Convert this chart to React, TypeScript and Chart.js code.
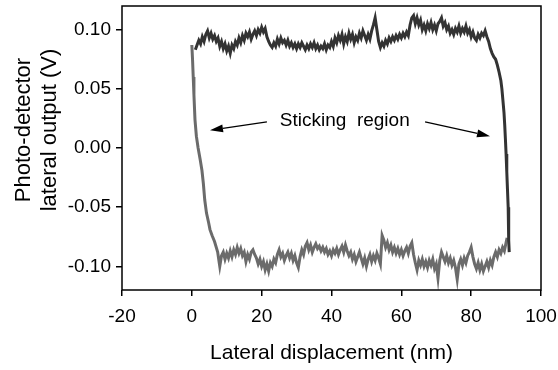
import React, { useEffect, useRef } from "react";
import { Chart, registerables } from "chart.js";
Chart.register(...registerables);

// Upper (dark) trace: forward scan, then slip at right edge
const topX = [
  1, 1.5, 2, 2.5, 3, 3.5, 4, 4.5, 5, 5.5, 6, 6.5, 7, 7.5, 8, 8.5, 9, 9.5, 10, 10.5,
  11, 11.5, 12, 12.5, 13, 13.5, 14, 14.5, 15, 15.5, 16, 16.5, 17, 17.5, 18, 18.5, 19, 19.5, 20, 20.5,
  21, 21.5, 22, 22.5, 23, 23.5, 24, 24.5, 25, 25.5, 26, 26.5, 27, 27.5, 28, 28.5, 29, 29.5, 30, 30.5,
  31, 31.5, 32, 32.5, 33, 33.5, 34, 34.5, 35, 35.5, 36, 36.5, 37, 37.5, 38, 38.5, 39, 39.5, 40, 40.5,
  41, 41.5, 42, 42.5, 43, 43.5, 44, 44.5, 45, 45.5, 46, 46.5, 47, 47.5, 48, 48.5, 49, 49.5, 50, 50.5,
  51, 51.5, 52, 52.5, 53, 53.5, 54, 54.5, 55, 55.5, 56, 56.5, 57, 57.5, 58, 58.5, 59, 59.5, 60, 60.5,
  61, 61.5, 62, 62.5, 63, 63.5, 64, 64.5, 65, 65.5, 66, 66.5, 67, 67.5, 68, 68.5, 69, 69.5, 70, 70.5,
  71, 71.5, 72, 72.5, 73, 73.5, 74, 74.5, 75, 75.5, 76, 76.5, 77, 77.5, 78, 78.5, 79, 79.5, 80, 80.5,
  81, 81.5, 82, 82.5, 83, 83.5, 84, 84.5, 85,
  85.5, 86, 86.5, 87, 87.5, 88, 88.5, 88.8, 89.1, 89.4, 89.6, 89.8, 90, 90.2, 90.4, 90.6, 90.7, 90.8, 90.9,
];
const topY = [
  0.083, 0.087, 0.091, 0.088, 0.094, 0.09, 0.096, 0.099, 0.093, 0.097, 0.092, 0.095, 0.09, 0.093, 0.086, 0.09, 0.084, 0.088, 0.082, 0.086,
  0.08, 0.087, 0.084, 0.09, 0.087, 0.093, 0.089, 0.095, 0.091, 0.097, 0.094, 0.098, 0.092, 0.096, 0.099, 0.095, 0.1, 0.097, 0.102, 0.098,
  0.101, 0.094, 0.09, 0.087, 0.085, 0.089, 0.086, 0.092, 0.088, 0.093, 0.089, 0.091, 0.087, 0.091, 0.086, 0.089, 0.085, 0.088, 0.084, 0.088,
  0.085, 0.089, 0.086, 0.083, 0.087, 0.084, 0.088, 0.085, 0.089, 0.084, 0.087, 0.083, 0.086, 0.084, 0.088, 0.083, 0.087, 0.085, 0.09, 0.086,
  0.093, 0.089, 0.095, 0.091, 0.096, 0.088, 0.094, 0.09, 0.097, 0.092, 0.096, 0.089, 0.094, 0.091, 0.097, 0.093, 0.099, 0.095, 0.091, 0.096,
  0.092, 0.099, 0.104, 0.11, 0.1, 0.09, 0.085, 0.089, 0.086, 0.091, 0.088, 0.093, 0.09, 0.094, 0.091, 0.095, 0.092, 0.096, 0.093, 0.097,
  0.094, 0.098, 0.095, 0.104, 0.11, 0.112, 0.105, 0.11, 0.104, 0.108, 0.1, 0.104, 0.099, 0.105, 0.101, 0.106, 0.1, 0.104, 0.099, 0.105,
  0.107, 0.11, 0.103, 0.106, 0.1, 0.103, 0.097, 0.1, 0.096, 0.101, 0.098, 0.103, 0.097, 0.101, 0.098, 0.103, 0.097, 0.1, 0.094, 0.098,
  0.093, 0.091, 0.096, 0.093, 0.097, 0.095, 0.099, 0.094, 0.09,
  0.084, 0.08, 0.077, 0.075, 0.07, 0.064, 0.057, 0.05, 0.04, 0.03, 0.02, 0.008, -0.005, -0.02, -0.035, -0.05, -0.065, -0.078, -0.088,
];

// Lower (grey) trace: stick at left edge, then return scan
const bottomX = [
  0, 0.2, 0.4, 0.6, 0.9, 1.3, 1.8, 2.4, 2.9, 3.3, 3.7, 4.2, 4.8, 5.2, 5.8, 6.5, 7, 7.4, 7.7, 8,
  8.5, 9, 9.5, 10, 10.5, 11, 11.5, 12, 12.5, 13, 13.5, 14, 14.5, 15, 15.5, 16, 16.5, 17, 17.5, 18, 18.5, 19, 19.5, 20, 20.5,
  21, 21.5, 22, 22.5, 23, 23.5, 24, 24.5, 25, 25.5, 26, 26.5, 27, 27.5, 28, 28.5, 29, 29.5, 30, 30.5,
  31, 31.5, 32, 32.5, 33, 33.5, 34, 34.5, 35, 35.5, 36, 36.5, 37, 37.5, 38, 38.5, 39, 39.5, 40, 40.5,
  41, 41.5, 42, 42.5, 43, 43.5, 44, 44.5, 45, 45.5, 46, 46.5, 47, 47.5, 48, 48.5, 49, 49.5, 50, 50.5,
  51, 51.5, 52, 52.5, 53, 53.5, 54, 54.5, 55, 55.5, 56, 56.5, 57, 57.5, 58, 58.5, 59, 59.5, 60, 60.5,
  61, 61.5, 62, 62.5, 63, 63.5, 64, 64.5, 65, 65.5, 66, 66.5, 67, 67.5, 68, 68.5, 69, 69.5, 70, 70.5,
  71, 71.5, 72, 72.5, 73, 73.5, 74, 74.5, 75, 75.5, 76, 76.5, 77, 77.5, 78, 78.5, 79, 79.5, 80, 80.5,
  81, 81.5, 82, 82.5, 83, 83.5, 84, 84.5, 85, 85.5, 86, 86.5, 87, 87.5, 88, 88.5, 89, 89.5, 90, 90.3,
];
const bottomY = [
  0.087, 0.075, 0.06, 0.045, 0.024, 0.01, 0.0, -0.01, -0.019, -0.03, -0.044, -0.055, -0.063, -0.069, -0.074, -0.079, -0.084, -0.088, -0.094, -0.1,
  -0.091, -0.088, -0.094, -0.089, -0.093, -0.087, -0.092, -0.086, -0.09, -0.084, -0.089, -0.085, -0.091, -0.088, -0.096, -0.09, -0.094, -0.088, -0.086, -0.09, -0.093, -0.098, -0.094, -0.1, -0.096,
  -0.103, -0.098, -0.104, -0.097, -0.1, -0.094, -0.097, -0.09, -0.086, -0.092, -0.089, -0.095, -0.091, -0.088, -0.093, -0.089, -0.095, -0.091, -0.097, -0.101,
  -0.092, -0.086, -0.09, -0.083, -0.08, -0.086, -0.082, -0.088, -0.084, -0.081, -0.085, -0.083, -0.087, -0.084, -0.088, -0.085, -0.09, -0.087, -0.091, -0.086,
  -0.089, -0.085, -0.09, -0.086, -0.083, -0.088, -0.082, -0.087, -0.091, -0.088, -0.094, -0.09, -0.096, -0.092, -0.088, -0.093, -0.098, -0.093, -0.1, -0.094,
  -0.09, -0.096, -0.091, -0.095, -0.089, -0.093, -0.098, -0.074, -0.078, -0.084, -0.08, -0.086, -0.082, -0.088, -0.084, -0.089, -0.085, -0.09, -0.086, -0.091,
  -0.087, -0.084, -0.089, -0.083, -0.08, -0.09, -0.097, -0.103, -0.095, -0.099, -0.094, -0.1, -0.096, -0.101, -0.095, -0.099, -0.094, -0.102, -0.098, -0.11,
  -0.095, -0.088, -0.092, -0.096, -0.091, -0.097, -0.093, -0.099, -0.095, -0.101, -0.111, -0.098, -0.094, -0.099, -0.093, -0.097, -0.091, -0.088, -0.084, -0.092,
  -0.098, -0.102, -0.097, -0.103, -0.098, -0.104, -0.1, -0.096, -0.101, -0.095, -0.099, -0.092, -0.088, -0.092, -0.086, -0.089, -0.084, -0.087, -0.08, -0.076,
];

const xTicks = [-20, 0, 20, 40, 60, 80, 100];
const yTicks = [-0.1, -0.05, 0, 0.05, 0.1];
const xRange = [-20, 100];
const yRange = [-0.12, 0.12];

const xTitle = "Lateral displacement (nm)";
const yTitleLines = ["Photo-detector", "lateral output (V)"];
const noteText = "Sticking  region";
const notePos = [43.8, 0.023];
const leftArrow = { from: [21.5, 0.022], to: [5.2, 0.015] };
const rightArrow = { from: [66.8, 0.022], to: [85.4, 0.01] };

const FONT = '"Liberation Sans", Arial, Helvetica, sans-serif';

function drawArrow(ctx: CanvasRenderingContext2D, x1: number, y1: number, x2: number, y2: number) {
  const ang = Math.atan2(y2 - y1, x2 - x1);
  const hl = 13;
  const hw = 4;
  const bx = x2 - hl * Math.cos(ang);
  const by = y2 - hl * Math.sin(ang);
  ctx.beginPath();
  ctx.moveTo(x1, y1);
  ctx.lineTo(bx, by);
  ctx.stroke();
  ctx.beginPath();
  ctx.moveTo(x2, y2);
  ctx.lineTo(bx + hw * Math.sin(ang), by - hw * Math.cos(ang));
  ctx.lineTo(bx - hw * Math.sin(ang), by + hw * Math.cos(ang));
  ctx.closePath();
  ctx.fill();
}

const decorPlugin = {
  id: "decor",
  afterDatasetsDraw(chart: any) {
    const { ctx, chartArea, scales } = chart;
    const { left, top, right, bottom } = chartArea;
    const sx = scales.x;
    const sy = scales.y;
    ctx.save();
    ctx.strokeStyle = "#000";
    ctx.lineWidth = 1.5;
    ctx.strokeRect(left, top, right - left, bottom - top);

    ctx.fillStyle = "#000";
    ctx.font = `19px ${FONT}`;
    ctx.textAlign = "center";
    ctx.textBaseline = "middle";
    ctx.fillText(noteText, sx.getPixelForValue(notePos[0]), sy.getPixelForValue(notePos[1]));

    ctx.lineWidth = 1.3;
    for (const a of [leftArrow, rightArrow]) {
      drawArrow(
        ctx,
        sx.getPixelForValue(a.from[0]),
        sy.getPixelForValue(a.from[1]),
        sx.getPixelForValue(a.to[0]),
        sy.getPixelForValue(a.to[1])
      );
    }

    // y-axis title (two lines, rotated)
    ctx.save();
    ctx.translate(37, 130);
    ctx.rotate(-Math.PI / 2);
    ctx.font = `22px ${FONT}`;
    ctx.fillText(yTitleLines[0], 0, -13);
    ctx.fillText(yTitleLines[1], 0, 13);
    ctx.restore();
    ctx.restore();
  },
};

export default function App() {
  const ref = useRef<HTMLCanvasElement>(null);
  useEffect(() => {
    if (!ref.current) return;
    const chart = new Chart(ref.current, {
      type: "line",
      data: {
        datasets: [
          {
            label: "forward",
            data: topX.map((x, i) => ({ x, y: topY[i] })),
            borderColor: "#333333",
            borderWidth: 3,
            pointRadius: 0,
            tension: 0,
            fill: false,
          },
          {
            label: "return",
            data: bottomX.map((x, i) => ({ x, y: bottomY[i] })),
            borderColor: "#6b6b6b",
            borderWidth: 3,
            pointRadius: 0,
            tension: 0,
            fill: false,
          },
        ],
      },
      options: {
        animation: false,
        responsive: false,
        events: [],
        layout: { padding: { top: 6, right: 17, left: 0, bottom: 0 } },
        plugins: { legend: { display: false }, tooltip: { enabled: false } },
        scales: {
          x: {
            type: "linear",
            min: xRange[0],
            max: xRange[1],
            afterBuildTicks: (s: any) => {
              s.ticks = xTicks.map((v) => ({ value: v }));
            },
            afterFit: (s: any) => {
              s.height = 80;
              s.paddingLeft = 0;
              s.paddingRight = 0;
            },
            grid: { drawOnChartArea: false, drawTicks: true, tickLength: 6, color: "#000", lineWidth: 1.5 },
            border: { display: false },
            ticks: {
              color: "#000",
              font: { family: FONT, size: 19 },
              padding: 9,
              maxRotation: 0,
              autoSkip: false,
              callback: (v: any) => String(v),
            },
            title: {
              display: true,
              text: xTitle,
              color: "#000",
              font: { family: FONT, size: 21 },
              padding: { top: 4, bottom: 4 },
            },
          },
          y: {
            type: "linear",
            min: yRange[0],
            max: yRange[1],
            afterBuildTicks: (s: any) => {
              s.ticks = yTicks.map((v) => ({ value: v }));
            },
            afterFit: (s: any) => {
              s.width = 122;
              s.paddingTop = 0;
              s.paddingBottom = 0;
            },
            grid: { drawOnChartArea: false, drawTicks: true, tickLength: 6, color: "#000", lineWidth: 1.5 },
            border: { display: false },
            ticks: {
              color: "#000",
              font: { family: FONT, size: 19 },
              padding: 5,
              autoSkip: false,
              callback: (v: any) => Number(v).toFixed(2),
            },
          },
        },
      },
      plugins: [decorPlugin],
    });
    return () => chart.destroy();
  }, []);
  return (
    <div style={{ position: "fixed", left: 0, top: 0, width: 558, height: 370, background: "#fff" }}>
      <canvas ref={ref} width={558} height={370} style={{ display: "block" }} />
    </div>
  );
}
